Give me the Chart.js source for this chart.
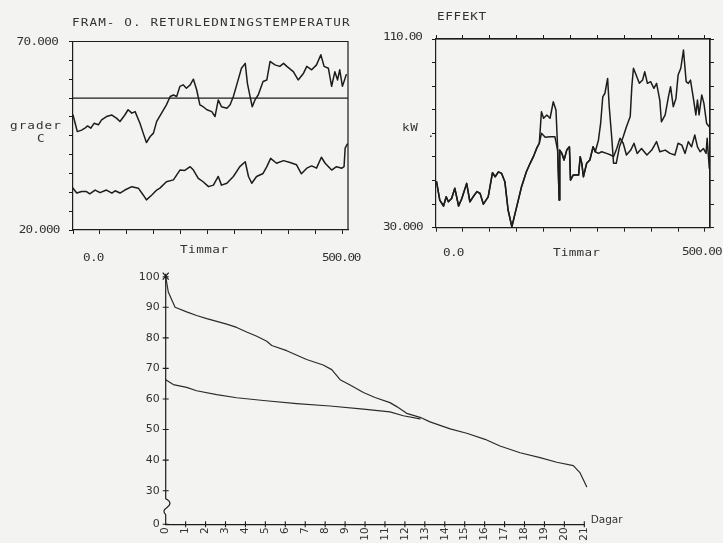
<!DOCTYPE html>
<html>
<head>
<meta charset="utf-8">
<script src="https://cdn.jsdelivr.net/npm/chart.js@4/dist/chart.umd.min.js"></script>
<style>
  html, body { margin: 0; padding: 0; background: #f3f3f1; }
  #page { position: relative; width: 723px; height: 543px; overflow: hidden; background: #f3f3f1; }
  canvas { position: absolute; }
  .t { position: absolute; font-family: "DejaVu Sans Mono", monospace; font-size: 11px; line-height: 11px;
       color: #333; white-space: nowrap; z-index: 2; transform: scaleX(1.15); transform-origin: 0 50%; }
  .r { transform-origin: 100% 50%; }
  .s { font-family: "DejaVu Sans", sans-serif; font-size: 10.5px; line-height: 10.5px; transform: none; }
</style>
</head>
<body>
<div id="page">
  <canvas id="temp" width="360" height="262" style="left:0;top:0"></canvas>
  <canvas id="power" width="363" height="262" style="left:360px;top:0"></canvas>
  <canvas id="duration" width="603" height="281" style="left:120px;top:262px"></canvas>
</div>
<script>
const INK = '#1d1d1d';
const TEXT = '#333333';

// ---- Fram- och returledningstemperatur (grader C) per timme ----
const supplyHours = [0,4,8,16,22,27,33,39,47,53,62,72,81,87,96,102,109,115,124,130,
  136,143,149,155,164,173,180,186,192,198,204,210,217,223,229,235,241,248,257,263,
  269,275,285,291,297,304,312,319,323,328,332,337,343,352,359,365,374,383,390,396,
  408,417,427,433,442,451,459,465,473,479,485,490,494,499,506];
const supplyTemp = [50.5,48.3,46.1,46.5,47,47.6,47,48.3,47.9,49.2,50.1,50.5,49.6,48.8,50.5,51.9,51,51.4,48.3,45.7,
  43.2,44.8,45.7,48.8,51,53.2,55.4,55.8,55.4,58.1,58.5,57.6,58.5,60,57.2,53.2,52.7,51.9,51.4,50.1,
  54.5,52.7,52.3,53.2,55.4,58.9,62.9,64.2,58.9,55.4,52.7,54.5,55.8,59.4,59.8,64.7,63.8,63.4,64.2,63.4,
  62,59.8,61.6,63.4,62.5,63.8,66.5,63.4,62.9,58.1,62,59.8,62.5,58.1,61.2];
const returnHours = [0,7,16,25,31,41,50,62,72,78,87,96,109,121,130,136,146,155,161,173,
  186,198,207,217,223,232,241,251,260,269,275,285,297,309,319,325,331,340,352,359,
  366,377,390,402,414,423,433,442,451,460,467,479,488,498,502,504,508];
const returnTemp = [31.1,29.8,30.2,30.2,29.6,30.6,29.9,30.6,29.8,30.4,29.8,30.6,31.5,31.1,29.3,28,29.3,30.6,31.1,32.8,
  33.3,35.9,35.8,36.8,35.9,33.7,32.8,31.5,31.9,34.2,31.9,32.4,34.2,36.8,38.1,34.2,32.4,34.2,35,36.8,
  39,37.7,38.4,37.9,37.3,34.9,36.4,37,36.4,39.3,37.7,35.9,36.8,36.4,36.8,41.7,42.8];
const setpointTemp = 55;
const tempRange = [20, 70];
const tempTicks = [20,25,30,35,40,45,50,55,60,65,70];
const tempTickLabels = ['20.000', '70.000'];

const hourRange = [0, 509.3];
const hourTicks = [0,50,100,150,200,250,300,350,400,450,500];
const hourTickLabels = ['0.0', '500.00'];

// ---- Effekt (kW) per timme ----
const sharedHoursA = [1,7,14,19,23,29,35,42,48,57,63,69,76,82,88,97,105,110,116,122,128,134,141,147,153,159,168,175,181,187,192];
const sharedKwA = [49.5,41.7,39.2,43.1,41,42.4,46.7,39.2,42.4,48.8,41,43.1,45.3,44.5,40,43.1,53.3,51.6,53.7,53,49.5,37.5,30.4,36.1,41.7,47.4,53.7,57.3,60.1,63.6,65.8];
const peakHoursA = [196,200,206,212,218,223,226];
const peakKwA = [79.2,76.4,77.8,76.4,83.4,79.9,64.3];
const baseHoursA = [196,203,212,221,226];
const baseKwA = [70,68.3,68.6,68.6,62.9];
const sharedHoursB = [229,230,234,238,243,248,250,255,265,268,271,274,280,286,292,296];
const sharedKwB = [41.7,62.9,61.5,58.7,62.9,64.3,50.2,52.3,52.3,60.1,57.3,51.6,57.3,58.7,64.3,62.2];
const peakHoursB = [302,306,310,314,319,322,327,330,335,341,348,354,361,364,367,372,378,384,388,393,
  399,405,410,416,419,426,432,436,441,446,450,455,460,465,469,473,478,483,486,489,494,498,503,508];
const peakKwB = [67.2,74.2,85.5,87,93.3,81.3,67.2,57.3,57.3,64.3,68.6,72.8,77.1,89.8,97.6,94.7,91.2,92.6,96.1,91.2,
  91.9,89.1,91.2,84.1,74.9,77.8,85.5,89.8,81.3,84.8,94.7,97.6,105.3,91.9,91.2,92.6,85.5,77.8,84.1,77.8,86.3,82.7,74.2,72.8];
const baseHoursB = [302,308,317,325,330,336,342,348,354,362,368,374,382,392,401,410,416,426,435,444,
  450,457,463,469,475,481,486,491,497,502,504,508];
const baseKwB = [61.5,62.2,61.5,60.8,60.1,63.6,67.9,65.8,60.8,62.9,65.8,61.5,63.6,60.8,62.9,66.5,62.2,62.9,61.5,60.8,
  65.8,65,61.5,66.5,64.3,69.3,64.3,62.2,63.6,61.5,67.9,55.2];
const kwRange = [30, 110];
const kwTicks = [30,40,50,60,70,80,90,100,110];
const kwTickLabels = ['30.000', '110.00'];

// ---- Varaktighet (%) mot dagar ----
const upperDays = [0,0.13,0.47,1.05,1.55,2.06,3.06,3.56,4.06,4.57,5.07,5.32,6.07,7.07,7.9,8.33,8.75,9.25,9.92,10.5,11.25,11.59,12.09,12.76];
const upperPct = [100,95,90,88.5,87.3,86.3,84.5,83.4,81.9,80.5,78.9,77.5,75.8,72.9,71.1,69.6,66.3,64.6,62.1,60.5,58.8,57.5,55.3,54];
const lowerDays = [0,0.38,1.05,1.55,2.56,3.56,4.9,6.57,8.24,9.92,11.25,11.92,12.76];
const lowerPct = [66.3,64.7,63.8,62.7,61.4,60.4,59.5,58.5,57.7,56.7,55.8,54.5,53.5];
const tailDays = [13.26,14.27,15.1,16.02,16.77,17.78,18.78,19.62,20.45,20.79,21.12,21.37];
const tailPct = [52.5,50.2,48.8,46.8,44.6,42.4,40.8,39.3,38.2,35.8,31.3,28.0];
const dayTicks = [0,1,2,3,4,5,6,7,8,9,10,11,12,13,14,15,16,17,18,19,20,21];
const pctTicks = [0,30,40,50,60,70,80,90,100];
const pctBreakFloor = 19;   // height at which the "0" line sits below the axis break

// ---- helpers ----
const pts = (xs, ys) => xs.map((x, i) => ({ x, y: ys[i] }));
const lineStyle = (w) => ({ borderColor: INK, borderWidth: w, pointRadius: 0, tension: 0, fill: false,
  borderJoinStyle: 'round', borderCapStyle: 'round' });

function baseOptions(padding) {
  return {
    responsive: false, animation: false, events: [],
    layout: { padding },
    plugins: { legend: { display: false }, tooltip: { enabled: false }, title: { display: false } }
  };
}

// axis with tick marks only (labels are placed as text elements)
function markAxis(position, range, ticks, withTicks) {
  return {
    type: 'linear', position, min: range[0], max: range[1],
    afterBuildTicks(s) { s.ticks = ticks.map(v => ({ value: v })); },
    afterFit(s) { if (s.isHorizontal()) s.height = 0; else s.width = 0; },
    ticks: { display: false },
    grid: { display: withTicks, drawOnChartArea: false, drawTicks: true, tickLength: 4, color: INK, lineWidth: 1 },
    border: { display: true, color: INK, width: 1.2 }
  };
}

const framePlugin = {
  id: 'frame',
  afterDraw(chart) {
    const { ctx, chartArea: a } = chart;
    ctx.save();
    ctx.strokeStyle = INK; ctx.lineWidth = 1.2;
    ctx.beginPath();
    ctx.moveTo(a.left, a.top); ctx.lineTo(a.right, a.top); ctx.lineTo(a.right, a.bottom);
    ctx.stroke();
    ctx.restore();
  }
};

// ---- Fram- o. returledningstemperatur ----
new Chart(document.getElementById('temp'), {
  type: 'line',
  data: {
    datasets: [
      { data: pts(supplyHours, supplyTemp), ...lineStyle(1.5) },
      { data: pts(returnHours, returnTemp), ...lineStyle(1.5) },
      { data: [{ x: hourRange[0], y: setpointTemp }, { x: hourRange[1], y: setpointTemp }], ...lineStyle(1.3) }
    ]
  },
  options: {
    ...baseOptions({ left: 73, top: 41.5, right: 12, bottom: 32 }),
    scales: {
      x: markAxis('bottom', hourRange, hourTicks, true),
      y: markAxis('left', tempRange, tempTicks, true)
    }
  },
  plugins: [framePlugin]
});

// ---- Effekt ----
const peakHours = [...sharedHoursA, ...peakHoursA, ...sharedHoursB, ...peakHoursB];
const peakKw = [...sharedKwA, ...peakKwA, ...sharedKwB, ...peakKwB];
const baseHours = [...sharedHoursA, ...baseHoursA, ...sharedHoursB, ...baseHoursB];
const baseKw = [...sharedKwA, ...baseKwA, ...sharedKwB, ...baseKwB];

new Chart(document.getElementById('power'), {
  type: 'line',
  data: {
    datasets: [
      { data: pts(baseHours, baseKw), ...lineStyle(1.5) },
      { data: pts(peakHours, peakKw), ...lineStyle(1.5) }
    ]
  },
  options: {
    ...baseOptions({ left: 76, top: 39, right: 13, bottom: 34.3 }),
    scales: {
      x: markAxis('bottom', hourRange, hourTicks, true),
      x2: markAxis('top', hourRange, hourTicks, true),
      y: markAxis('left', kwRange, kwTicks, true),
      y2: markAxis('right', kwRange, kwTicks, true)
    }
  },
  plugins: [framePlugin]
});

// ---- Varaktighetsdiagram ----
const durationAxesPlugin = {
  id: 'durationAxes',
  afterDraw(chart) {
    const { ctx, chartArea: a, scales: { x, y } } = chart;
    const ax = a.left;
    ctx.save();
    ctx.strokeStyle = INK; ctx.lineWidth = 1.2; ctx.lineJoin = 'round';
    // vertical axis with a break between 0 and 30
    const b0 = y.getPixelForValue(30) + 8;
    ctx.beginPath();
    ctx.moveTo(ax, a.top - 3);
    ctx.lineTo(ax, b0);
    ctx.quadraticCurveTo(ax + 8, b0 + 4, ax + 1, b0 + 9);
    ctx.quadraticCurveTo(ax - 4, b0 + 12, ax, b0 + 16);
    ctx.lineTo(ax, a.bottom);
    ctx.stroke();
    // marker at the top of the axis
    ctx.beginPath();
    ctx.moveTo(ax - 3, a.top - 4); ctx.lineTo(ax + 3, a.top + 3);
    ctx.moveTo(ax + 3, a.top - 4); ctx.lineTo(ax - 3, a.top + 3);
    ctx.stroke();
    // crossing tick marks
    ctx.lineWidth = 1.1;
    ctx.beginPath();
    y.ticks.forEach(t => {
      const py = y.getPixelForValue(t.value);
      ctx.moveTo(ax - 3, py); ctx.lineTo(ax + 3, py);
    });
    x.ticks.forEach(t => {
      if (t.value === 0) return;
      const px = x.getPixelForValue(t.value);
      ctx.moveTo(px, a.bottom - 3); ctx.lineTo(px, a.bottom + 3);
    });
    ctx.stroke();
    ctx.restore();
  }
};

const smallFont = { family: 'DejaVu Sans', size: 10.5 };
new Chart(document.getElementById('duration'), {
  type: 'line',
  data: {
    datasets: [
      { data: pts([...upperDays, ...tailDays], [...upperPct, ...tailPct]), ...lineStyle(1.2), borderColor: '#2b2b2b', clip: false },
      { data: pts(lowerDays, lowerPct), ...lineStyle(1.2), borderColor: '#2b2b2b', clip: false }
    ]
  },
  options: {
    ...baseOptions({ left: 0, top: 14.7, right: 138.7, bottom: 0 }),
    scales: {
      x: {
        type: 'linear', min: 0, max: 21,
        afterBuildTicks(s) { s.ticks = dayTicks.map(v => ({ value: v })); },
        afterFit(s) { s.height = 18.7; },
        ticks: { display: true, autoSkip: false, minRotation: 90, maxRotation: 90, padding: 3,
                 color: TEXT, font: smallFont, callback: (v) => String(v) },
        grid: { display: false, drawTicks: false },
        border: { display: true, color: INK, width: 1.2 }
      },
      y: {
        type: 'linear', min: pctBreakFloor, max: 100,
        afterBuildTicks(s) { s.ticks = pctTicks.map(v => ({ value: v === 0 ? pctBreakFloor : v })); },
        afterFit(s) { s.width = 45.7; },
        ticks: { display: true, padding: 6, color: TEXT, font: { family: 'DejaVu Sans', size: 11 },
                 callback: (v, i) => String(pctTicks[i]) },
        grid: { display: false, drawTicks: false },
        border: { display: false }
      }
    }
  },
  plugins: [durationAxesPlugin]
});

// ---- text ----
const page = document.getElementById('page');
function addText(txt, css, cls) {
  const d = document.createElement('div');
  d.className = 't' + (cls ? ' ' + cls : '');
  d.textContent = txt;
  Object.assign(d.style, css);
  page.appendChild(d);
}
addText('FRAM- O. RETURLEDNINGSTEMPERATUR', { left: '72px', top: '17.4px', letterSpacing: '0.95px' });
addText(tempTickLabels[1], { right: '665px', top: '35.7px', letterSpacing: '-0.6px' }, 'r');
addText(tempTickLabels[0], { right: '663.7px', top: '224px', letterSpacing: '-0.7px' }, 'r');
addText('grader', { left: '10px', top: '119.7px', letterSpacing: '0.9px' });
addText('C', { left: '37px', top: '133.4px' });
addText('Timmar', { left: '180px', top: '244px', letterSpacing: '0.4px' });
addText(hourTickLabels[0], { left: '83px', top: '252.4px', letterSpacing: '-0.6px' });
addText(hourTickLabels[1], { left: '322px', top: '252.2px', letterSpacing: '-1.1px' });

addText('EFFEKT', { left: '436.7px', top: '11.4px', letterSpacing: '0.6px' });
addText(kwTickLabels[1], { left: '382.7px', top: '30.7px', letterSpacing: '-1px' });
addText(kwTickLabels[0], { left: '383.3px', top: '220.7px', letterSpacing: '-0.9px' });
addText('kW', { left: '401.7px', top: '122.4px', letterSpacing: '0.6px' });
addText('.', { left: '427px', top: '128px' });
addText(hourTickLabels[0], { left: '443.3px', top: '246.7px', letterSpacing: '-0.6px' });
addText('Timmar', { left: '553.3px', top: '246.7px', letterSpacing: '0.2px' });
addText(hourTickLabels[1], { left: '681.7px', top: '245.7px', letterSpacing: '-0.9px' });

addText('Dagar', { left: '590.7px', top: '514px' }, 's');
</script>
</body>
</html>
